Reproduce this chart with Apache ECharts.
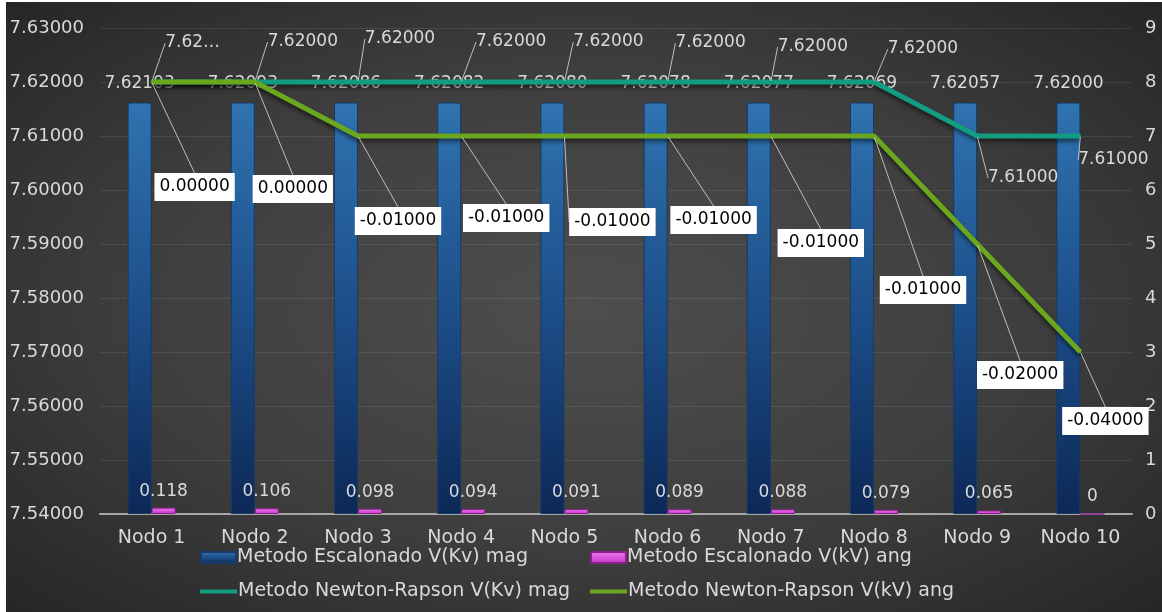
<!DOCTYPE html>
<html>
<head>
<meta charset="utf-8">
<script src="https://cdn.jsdelivr.net/npm/echarts@6/dist/echarts.min.js"></script>
<style>
  html, body { margin: 0; padding: 0; background: #ffffff; }
  #main {
    position: absolute;
    left: 6px;
    top: 2px;
    width: 1156px;
    height: 610px;
    background: radial-gradient(ellipse at 50% 50%, #4e4e4e 0%, #3e3e3e 55%, #262626 100%);
  }
</style>
</head>
<body>
<div id="main"></div>
<script>
// categorias
const nodos = ["Nodo 1", "Nodo 2", "Nodo 3", "Nodo 4", "Nodo 5", "Nodo 6", "Nodo 7", "Nodo 8", "Nodo 9", "Nodo 10"];

// Metodo Escalonado (barras, eje derecho)
const escMag = [7.62103, 7.62093, 7.62086, 7.62082, 7.6208, 7.62078, 7.62077, 7.62069, 7.62057, 7.62];
const escAng = [0.118, 0.106, 0.098, 0.094, 0.091, 0.089, 0.088, 0.079, 0.065, 0];

// Metodo Newton-Rapson (lineas, eje izquierdo)
const nrMag = [7.62, 7.62, 7.62, 7.62, 7.62, 7.62, 7.62, 7.62, 7.61, 7.61];
const nrMagLabels = ["7.62…", "7.62000", "7.62000", "7.62000", "7.62000", "7.62000", "7.62000", "7.62000", "7.61000", "7.61000"];
const nrAng = [7.62, 7.62, 7.61, 7.61, 7.61, 7.61, 7.61, 7.61, 7.59, 7.57];
const nrAngLabels = ["0.00000", "0.00000", "-0.01000", "-0.01000", "-0.01000", "-0.01000", "-0.01000", "-0.01000", "-0.02000", "-0.04000"];

// desplazamiento de etiquetas (px)
const magLabelOffset = [[41, -39], [48, -40], [42, -43], [50, -40], [44, -40], [43, -39], [42, -35], [49, -33], [46, 42], [33, 24]];
const angLabelOffset = [[43, 105], [38, 107], [40, 85], [45, 82], [48, 86], [46, 84], [50, 107], [49, 154], [43, 131], [25, 69]];

const font = "DejaVu Sans";
const txt = "#d9d9d9";

const chart = echarts.init(document.getElementById("main"));

const legendBase = {
  orient: "horizontal",
  itemGap: 0,
  padding: 0,
  textStyle: { color: txt, fontFamily: font, fontSize: 19, padding: [0, 0, 0, -4] },
};

const option = {
  backgroundColor: "transparent",
  animation: false,
  grid: { left: 94, right: 30, top: 26, bottom: 98 },
  legend: [
    Object.assign({}, legendBase, { left: 194, top: 546, itemWidth: 35, itemHeight: 11, data: [{ name: "Metodo Escalonado V(Kv) mag", icon: "rect" }] }),
    Object.assign({}, legendBase, { left: 584, top: 546, itemWidth: 35, itemHeight: 11, data: [{ name: "Metodo Escalonado V(kV) ang", icon: "rect" }] }),
    Object.assign({}, legendBase, { left: 194, top: 580, itemWidth: 37, itemHeight: 4, data: [{ name: "Metodo Newton-Rapson V(Kv) mag", icon: "rect" }] }),
    Object.assign({}, legendBase, { left: 584, top: 580, itemWidth: 37, itemHeight: 4, data: [{ name: "Metodo Newton-Rapson V(kV) ang", icon: "rect" }] }),
  ],
  xAxis: {
    type: "category",
    data: nodos,
    axisTick: { show: false },
    axisLine: { lineStyle: { color: "#a6a6a6", width: 2 } },
    axisLabel: { interval: 0, color: txt, fontFamily: font, fontSize: 19, margin: 15 },
  },
  yAxis: [
    {
      type: "value",
      min: 7.54,
      max: 7.63,
      interval: 0.01,
      axisLine: { show: false },
      axisTick: { show: false },
      splitLine: { lineStyle: { color: "rgba(255,255,255,0.09)", width: 1 } },
      axisLabel: {
        color: txt, fontFamily: font, fontSize: 18, margin: 16,
        formatter: (v) => v.toFixed(5),
      },
    },
    {
      type: "value",
      min: 0,
      max: 9,
      interval: 1,
      axisLine: { show: false },
      axisTick: { show: false },
      splitLine: { show: false },
      axisLabel: { color: txt, fontFamily: font, fontSize: 18, margin: 13 },
    },
  ],
  series: [
    {
      name: "Metodo Escalonado V(Kv) mag",
      type: "bar",
      yAxisIndex: 1,
      data: escMag,
      barWidth: 24,
      barGap: "0%",
      itemStyle: {
        color: new echarts.graphic.LinearGradient(0, 0, 0, 1, [
          { offset: 0, color: "#2f73b0" },
          { offset: 0.5, color: "#1d4f8a" },
          { offset: 1, color: "#0c2857" },
        ]),
        borderColor: "#173a66",
        borderWidth: 1,
        borderRadius: [2, 2, 0, 0],
      },
      label: {
        show: true,
        position: "top",
        distance: 10,
        color: txt,
        fontFamily: font,
        fontSize: 17,
        formatter: (p) => p.value.toFixed(5),
      },
    },
    {
      name: "Metodo Escalonado V(kV) ang",
      type: "bar",
      yAxisIndex: 1,
      data: escAng,
      barWidth: 24,
      itemStyle: {
        color: new echarts.graphic.LinearGradient(0, 0, 0, 1, [
          { offset: 0, color: "#f07af0" },
          { offset: 1, color: "#c531c5" },
        ]),
        borderColor: "#8a1f8a",
        borderWidth: 1,
      },
      label: {
        show: true,
        position: "top",
        distance: 8,
        color: txt,
        fontFamily: font,
        fontSize: 17,
        formatter: (p) => (p.value === 0 ? "0" : String(p.value)),
      },
    },
    {
      name: "Metodo Newton-Rapson V(Kv) mag",
      type: "line",
      yAxisIndex: 0,
      data: nrMag,
      symbol: "circle",
      symbolSize: 2,
      itemStyle: { color: "#139d80" },
      lineStyle: { color: "#139d80", width: 5, shadowColor: "rgba(0,0,0,0.55)", shadowBlur: 4, shadowOffsetY: 3 },
      label: {
        show: true,
        position: "inside",
        color: txt,
        fontFamily: font,
        fontSize: 17,
        formatter: (p) => nrMagLabels[p.dataIndex],
      },
      labelLine: { show: true, length2: 0, minTurnAngle: 180, lineStyle: { color: "#bfbfbf", width: 1 } },
      labelLayout: (p) => ({ dx: magLabelOffset[p.dataIndex][0], dy: magLabelOffset[p.dataIndex][1] }),
      z: 3,
    },
    {
      name: "Metodo Newton-Rapson V(kV) ang",
      type: "line",
      yAxisIndex: 0,
      data: nrAng,
      symbol: "circle",
      symbolSize: 2,
      itemStyle: { color: "#6aa61e" },
      lineStyle: { color: "#6aa61e", width: 5, shadowColor: "rgba(0,0,0,0.55)", shadowBlur: 4, shadowOffsetY: 3 },
      label: {
        show: true,
        position: "inside",
        color: "#000000",
        backgroundColor: "#ffffff",
        padding: [6, 5, 5, 5],
        fontFamily: font,
        fontSize: 17,
        formatter: (p) => nrAngLabels[p.dataIndex],
      },
      labelLine: { show: true, length2: 0, minTurnAngle: 180, lineStyle: { color: "#bfbfbf", width: 1 } },
      labelLayout: (p) => ({ dx: angLabelOffset[p.dataIndex][0], dy: angLabelOffset[p.dataIndex][1] }),
      z: 4,
    },
  ],
};

chart.setOption(option);
</script>
</body>
</html>
